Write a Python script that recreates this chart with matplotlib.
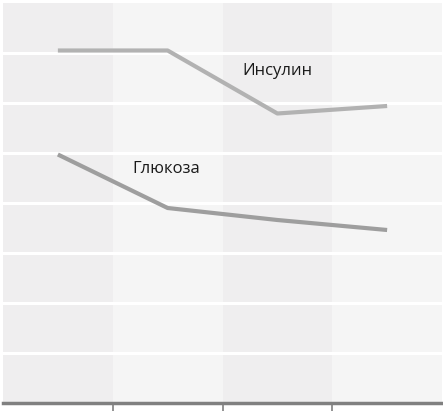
import matplotlib.pyplot as plt
import numpy as np

# x categories (no labels on the axis)
points = [0, 1, 2, 3]
insulin = [7.05, 7.05, 5.79, 5.94]
glucose = [4.97, 3.90, 3.66, 3.46]
gridlines = [1, 2, 3, 4, 5, 6, 7]
band_colors = ["#efeeef", "#f5f5f5", "#efeeef", "#f5f5f5"]

fig = plt.figure(figsize=(4.43, 4.11), dpi=100)
ax = fig.add_axes([3 / 443, 8 / 411, 439 / 443, 400 / 411])

for i, c in zip(points, band_colors):
    ax.axvspan(i - 0.5, i + 0.5, color=c, lw=0, zorder=0)
for g in gridlines:
    ax.axhline(g, color="white", lw=2.2, zorder=1)

ax.plot(points, insulin, color="#b2b2b2", lw=3, solid_capstyle="butt", zorder=3)
ax.plot(points, glucose, color="#9e9e9e", lw=3, solid_capstyle="butt", zorder=3)

ax.text(2.0, 6.64, "Инсулин", ha="center", va="center", fontsize=12,
        family="Open Sans", color="#1a1a1a")
ax.text(0.985, 4.68, "Глюкоза", ha="center", va="center", fontsize=12,
        family="Open Sans", color="#1a1a1a")

ax.set_xlim(-0.5, 3.5)
ax.set_ylim(0, 8)
ax.set_xticks([0.5, 1.5, 2.5])
ax.set_xticklabels([])
ax.set_yticks([])
ax.tick_params(axis="x", length=6, width=1.2, color="#808080", direction="out")
for s in ["top", "right", "left"]:
    ax.spines[s].set_visible(False)
ax.spines["bottom"].set_color("#808080")
ax.spines["bottom"].set_linewidth(2.5)

fig.savefig("out.png", dpi=100)
